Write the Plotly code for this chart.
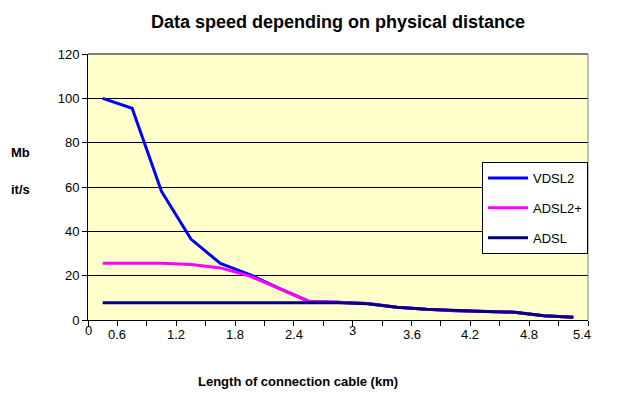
import plotly.graph_objects as go

# Measurement points along the cable (17 samples, ~0.3 km apart)
n_points = 17
sample_index = list(range(n_points))

vdsl2 = [100, 95.5, 58, 36.5, 25.5, 20.5, 14.3, 8.5, 8.0, 7.4, 5.8, 4.8, 4.2, 3.8, 3.5, 1.9, 1.2]
adsl2plus = [25.6, 25.6, 25.6, 25.0, 23.5, 19.8, 14.3, 8.5, 8.0, 7.4, 5.8, 4.8, 4.2, 3.8, 3.5, 1.9, 1.2]
adsl = [7.8, 7.8, 7.8, 7.8, 7.8, 7.8, 7.8, 7.8, 7.8, 7.3, 5.8, 4.8, 4.2, 3.8, 3.5, 1.9, 1.2]

# Distance labels (km) and the category boundary each one sits on
distance_labels = ["0", "0.6", "1.2", "1.8", "2.4", "3", "3.6", "4.2", "4.8", "5.4"]
label_boundaries = [-0.5, 0.5, 2.5, 4.5, 6.5, 8.5, 10.5, 12.5, 14.5, 16.5]

y_ticks = [0, 20, 40, 60, 80, 100, 120]

FONT = "Liberation Sans, Arial, sans-serif"

fig = go.Figure()
series = [
    ("VDSL2", vdsl2, "#0000FF"),
    ("ADSL2+", adsl2plus, "#FF00FF"),
    ("ADSL", adsl, "#000080"),
]
for name, values, color in series:
    fig.add_trace(go.Scatter(
        x=sample_index, y=values, mode="lines", name=name,
        legendgroup=name,
        line=dict(color=color, width=3),
    ))

# Distance labels under the axis; "0" and "3" sit a little higher
annotations = []
for lab, pos in zip(distance_labels, label_boundaries):
    raised = lab in ("0", "3")
    annotations.append(dict(
        x=pos, y=0, xref="x", yref="paper",
        text=lab, showarrow=False,
        yanchor="middle", xanchor="center",
        yshift=-10 if raised else -14,
        xshift=-6 if lab == "5.4" else 0,
        font=dict(family=FONT, size=13, color="black"),
    ))

# Axis titles
annotations += [
    dict(text="<b>Length of connection cable (km)</b>", x=0.42, y=-0.23,
         xref="paper", yref="paper", showarrow=False, yanchor="middle",
         xanchor="center", font=dict(family=FONT, size=13, color="black")),
    dict(text="<b>Mb</b>", x=-0.135, y=0.63, xref="paper", yref="paper",
         showarrow=False, xanchor="center", yanchor="middle",
         font=dict(family=FONT, size=13, color="black")),
    dict(text="<b>it/s</b>", x=-0.135, y=0.49, xref="paper", yref="paper",
         showarrow=False, xanchor="center", yanchor="middle",
         font=dict(family=FONT, size=13, color="black")),
]

fig.update_layout(
    width=638, height=399,
    margin=dict(l=88, r=50, t=54, b=79),
    paper_bgcolor="white",
    plot_bgcolor="#FFFFCC",
    title=dict(
        text="<b>Data speed depending on physical distance</b>",
        x=(88 + 588) / 2 / 638, xanchor="center",
        y=1 - 22 / 399, yanchor="middle",
        font=dict(family=FONT, size=18, color="black"),
    ),
    xaxis=dict(
        range=[-0.5, n_points - 0.5],
        tickmode="array",
        tickvals=[i - 0.5 for i in range(n_points + 1)],
        showticklabels=False,
        ticks="outside", ticklen=5, tickcolor="black", tickwidth=1,
        showgrid=False, zeroline=False,
        showline=True, linecolor="black", linewidth=1,
        fixedrange=True,
    ),
    yaxis=dict(
        range=[0, 120],
        tickmode="array", tickvals=y_ticks,
        ticks="outside", ticklen=5, tickcolor="black", tickwidth=1,
        tickfont=dict(family=FONT, size=13, color="black"),
        showgrid=True, gridcolor="black", gridwidth=1,
        zeroline=False,
        showline=True, linecolor="black", linewidth=1,
        fixedrange=True,
    ),
    legend=dict(
        x=1.0, xanchor="right", y=0.594, yanchor="top",
        bgcolor="white", bordercolor="black", borderwidth=1,
        font=dict(family=FONT, size=13, color="black"),
        tracegroupgap=10,
        itemwidth=40,
    ),
    annotations=annotations,
    shapes=[
        dict(type="line", xref="paper", yref="paper", x0=0, x1=1, y0=1, y1=1,
             line=dict(color="#808080", width=2), layer="above"),
        dict(type="line", xref="paper", yref="paper", x0=1, x1=1, y0=0, y1=1,
             line=dict(color="#808080", width=1), layer="above"),
    ],
)

fig.write_html("out.html")
